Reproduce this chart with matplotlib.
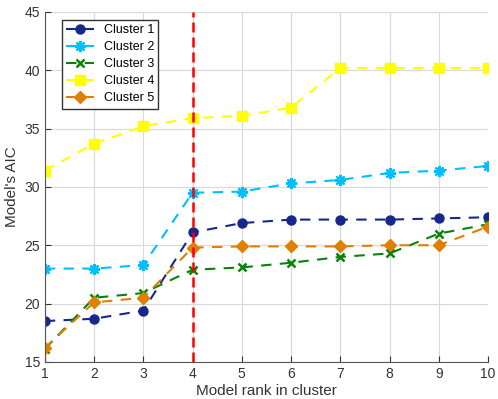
import numpy as np
import matplotlib.pyplot as plt

ranks = np.arange(1, 11)
cluster1 = [18.5, 18.7, 19.4, 26.1, 26.9, 27.2, 27.2, 27.2, 27.3, 27.4]
cluster2 = [23.0, 23.0, 23.3, 29.5, 29.6, 30.3, 30.6, 31.2, 31.4, 31.8]
cluster3 = [16.1, 20.5, 20.9, 22.9, 23.1, 23.5, 24.0, 24.3, 26.0, 26.8]
cluster4 = [31.4, 33.7, 35.2, 35.9, 36.1, 36.8, 40.2, 40.2, 40.2, 40.2]
cluster5 = [16.2, 20.1, 20.5, 24.8, 24.9, 24.9, 24.9, 25.0, 25.0, 26.6]
labels = ['Cluster 1', 'Cluster 2', 'Cluster 3', 'Cluster 4', 'Cluster 5']
cut_rank = 4

plt.rcParams['font.family'] = ['Liberation Sans', 'DejaVu Sans']
fig = plt.figure(figsize=(4.98, 3.99), dpi=100)
ax = fig.add_axes([0.09, 0.093, 0.89, 0.877])

# colour, marker, size, edge width
styles = [
	('#17288c', 'o', 6.5, 1),
	('#00bfff', (8, 2, 0), 8, 1.6),
	('#0a820a', 'x', 6, 1.8),
	('#ffff00', 's', 6.5, 1),
	('#e07f00', 'D', 6, 1),
]
series = [cluster1, cluster2, cluster3, cluster4, cluster5]
for vals, lab, (c, m, ms, mew) in zip(series, labels, styles):
	ax.plot(ranks, vals, '--', color=c, marker=m, markersize=ms, markeredgewidth=mew,
		linewidth=1.5, dashes=(5, 4), label=lab)

ax.axvline(cut_rank, color='red', linestyle='--', linewidth=1.8, dashes=(4, 2))

ax.set_xlim(1, 10)
ax.set_ylim(15, 45)
ax.set_xticks(ranks)
ax.set_yticks(np.arange(15, 46, 5))
ax.grid(True, color='#d8d8d8', linewidth=0.8)
ax.set_axisbelow(True)
for s in ['top', 'right']:
	ax.spines[s].set_visible(False)
for s in ['left', 'bottom']:
	ax.spines[s].set_color('#555555')
ax.tick_params(colors='#333333', labelsize=10, direction='in', length=4)
ax.set_xlabel("Model rank in cluster", fontsize=11, color='#333333', labelpad=2)
ax.set_ylabel("Model's AIC", fontsize=11, color='#333333', labelpad=4)

leg = ax.legend(loc='upper left', bbox_to_anchor=(0.038, 0.977), fontsize=9,
	fancybox=False, edgecolor='#333333', framealpha=1, handlelength=2.2,
	borderpad=0.35, labelspacing=0.4, handletextpad=0.8, borderaxespad=0)
leg.get_frame().set_linewidth(1.0)

fig.savefig('out.png', dpi=100)
